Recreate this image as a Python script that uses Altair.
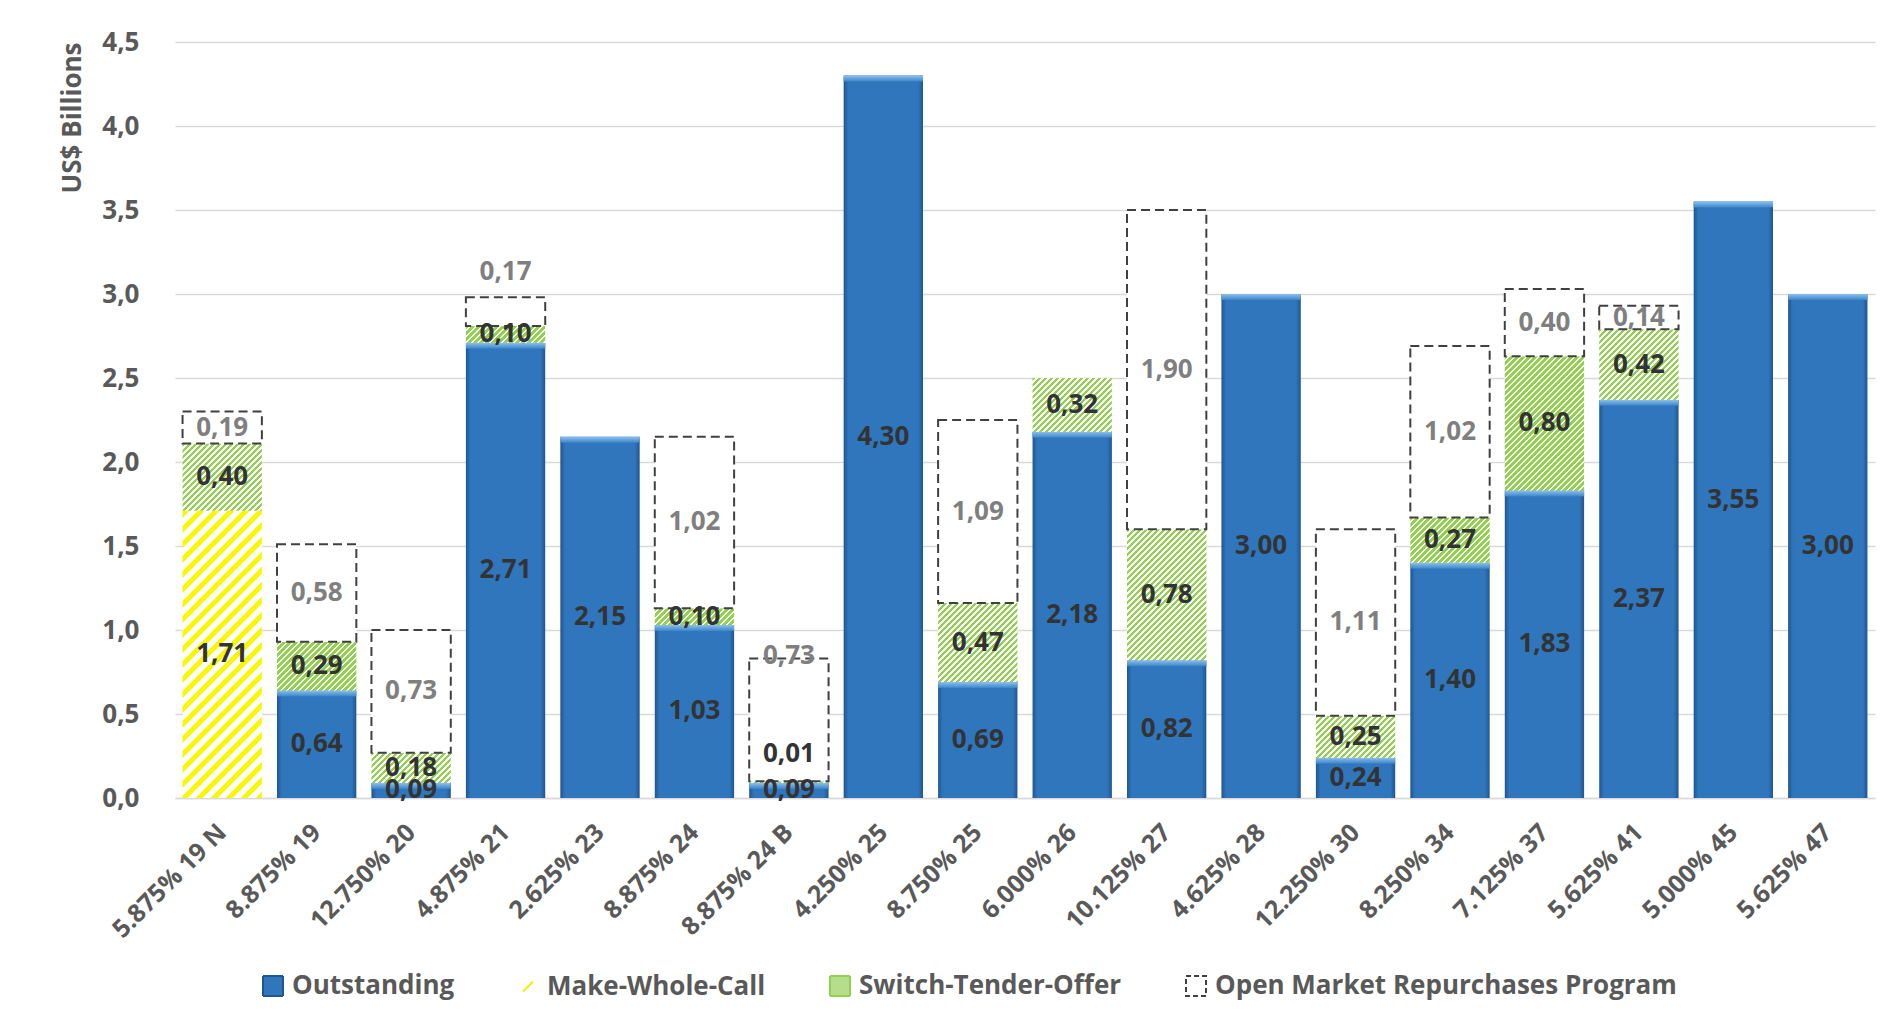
import altair as alt
import pandas as pd

# ---------------- data ----------------
categories = ["5.875% 19 N", "8.875% 19", "12.750% 20", "4.875% 21", "2.625% 23",
              "8.875% 24", "8.875% 24 B", "4.250% 25", "8.750% 25", "6.000% 26",
              "10.125% 27", "4.625% 28", "12.250% 30", "8.250% 34", "7.125% 37",
              "5.625% 41", "5.000% 45", "5.625% 47"]
make_whole = [1.71, 0, 0, 0, 0, 0, 0, 0, 0, 0, 0, 0, 0, 0, 0, 0, 0, 0]
outstanding = [0, 0.64, 0.09, 2.71, 2.15, 1.03, 0.09, 4.30, 0.69, 2.18, 0.82, 3.00,
               0.24, 1.40, 1.83, 2.37, 3.55, 3.00]
switch = [0.40, 0.29, 0.18, 0.10, 0, 0.10, 0.01, 0, 0.47, 0.32, 0.78, 0, 0.25, 0.27,
          0.80, 0.42, 0, 0]
omr = [0.19, 0.58, 0.73, 0.17, 0, 1.02, 0.73, 0, 1.09, 0, 1.90, 0, 1.11, 1.02, 0.40,
       0.14, 0, 0]
series_names = ["Outstanding", "Make-Whole-Call", "Switch-Tender-Offer",
                "Open Market Repurchases Program"]
y_ticks = [0, 0.5, 1.0, 1.5, 2.0, 2.5, 3.0, 3.5, 4.0, 4.5]

# ---------------- styles ----------------
FONT = "Open Sans"
W, H = 1700, 756
YMAX = 4.5
PAD_IN, PAD_OUT = 0.16, 0.08
PX_PER_UNIT = H / YMAX
BAND = W / (len(categories) - PAD_IN + 2 * PAD_OUT) * (1 - PAD_IN)
TEXT_GREY = "#595959"
LABEL_DARK = "#333333"
LABEL_GREY = "#7f7f7f"
label_color = {"Outstanding": LABEL_DARK, "Make-Whole-Call": LABEL_DARK,
               "Switch-Tender-Offer": LABEL_DARK,
               "Open Market Repurchases Program": LABEL_GREY}
# pixel nudges for a few data labels that were moved in the original
label_dy = {("4.875% 21", "Open Market Repurchases Program"): -40,
            ("8.875% 24 B", "Open Market Repurchases Program"): -64,
            ("8.875% 24 B", "Switch-Tender-Offer"): -28}

# ---------------- table ----------------
stack_order = [("Make-Whole-Call", make_whole), ("Outstanding", outstanding),
               ("Switch-Tender-Offer", switch),
               ("Open Market Repurchases Program", omr)]
rows = []
for i, cat in enumerate(categories):
    base = 0.0
    for name, vals in stack_order:
        v = vals[i]
        if v > 0:
            rows.append({"cat": cat, "series": name, "y0": base, "y1": base + v,
                         "mid": base + v / 2, "label": f"{v:.2f}".replace(".", ","),
                         "tcolor": label_color[name],
                         "dy": label_dy.get((cat, name), 0),
                         "key": f"{i}-{name}"})
            base += v
df = pd.DataFrame(rows)

x_scale = alt.Scale(domain=categories, paddingInner=PAD_IN, paddingOuter=PAD_OUT)
y_scale = alt.Scale(domain=[0, YMAX], nice=False, zero=True)

x_axis = alt.Axis(title=None, labelAngle=-45, labelFont=FONT, labelFontSize=25,
                  labelFontWeight="bold", labelColor=TEXT_GREY, ticks=False,
                  domainColor="#d9d9d9", domainWidth=1.5, labelPadding=30,
                  labelAlign="right", labelBaseline="middle", grid=False)
y_axis = alt.Axis(values=y_ticks,
                  labelExpr="replace(format(datum.value, '.1f'), '.', ',')",
                  title="US$ Billions", titleFont=FONT, titleFontSize=26,
                  titleFontWeight="bold", titleColor=TEXT_GREY, titleAnchor="end",
                  titlePadding=16, labelFont=FONT, labelFontSize=26,
                  labelFontWeight="bold", labelColor=TEXT_GREY, gridColor="#d9d9d9",
                  gridWidth=1.5, domain=False, ticks=False, labelPadding=36)


def X():
    return alt.X("cat:N", scale=x_scale, axis=x_axis)


def Y(field):
    return alt.Y(field, scale=y_scale, axis=y_axis)


def stops(pairs):
    return [alt.GradientStop(offset=o, color=c) for o, c in pairs]


def hatch(w, h, period, frac, fg, bg):
    L = w + h
    k = L / (w * w + h * h)
    st = []
    p = 0.0
    while p < L:
        a = p / L
        b = min((p + frac * period) / L, 1.0)
        c = min((p + period) / L, 1.0)
        st += [(a, fg), (b, fg), (b, bg), (c, bg)]
        p += period
    return alt.Gradient(gradient="linear", x1=0, y1=0, x2=k * w, y2=k * h,
                        stops=stops(st))


base = alt.Chart(df)
layers = []

# blue outstanding bars
blue_grad = alt.Gradient(gradient="linear", x1=0, y1=0, x2=1, y2=0,
                         stops=stops([(0, "#1f5690"), (0.06, "#2f76bd"),
                                      (0.94, "#2f76bd"), (1, "#1f5690")]))
layers.append(
    base.transform_filter(alt.datum.series == "Outstanding")
    .mark_bar(fill=blue_grad, strokeWidth=0)
    .encode(x=X(), y=Y("y1:Q"), y2="y0:Q")
)
bevel_grad = alt.Gradient(gradient="linear", x1=0, y1=0, x2=0, y2=1,
                          stops=stops([(0, "#8cc0ec"), (1, "#3b84ca")]))
layers.append(
    base.transform_filter(alt.datum.series == "Outstanding")
    .mark_bar(fill=bevel_grad, strokeWidth=0, y2Offset=6)
    .encode(x=X(), y=Y("y1:Q"), y2="y1:Q")
)

# hatched segments (one layer each, so every stripe gradient fits its own box)
for r in rows:
    if r["series"] == "Make-Whole-Call":
        g = hatch(BAND, (r["y1"] - r["y0"]) * PX_PER_UNIT, 15, 0.45, "#f8f800", "#ffffff")
    elif r["series"] == "Switch-Tender-Offer":
        g = hatch(BAND, (r["y1"] - r["y0"]) * PX_PER_UNIT, 6, 0.55, "#92d050", "#ffffff")
    else:
        continue
    layers.append(
        base.transform_filter(alt.datum.key == r["key"])
        .mark_bar(fill=g, strokeWidth=0)
        .encode(x=X(), y=Y("y1:Q"), y2="y0:Q")
    )

# open market repurchase boxes
layers.append(
    base.transform_filter(alt.datum.series == "Open Market Repurchases Program")
    .mark_bar(fill="#ffffff", stroke="#404040", strokeWidth=2, strokeDash=[9, 5])
    .encode(x=X(), y=Y("y1:Q"), y2="y0:Q")
)

# data labels
for d in sorted(df["dy"].unique()):
    layers.append(
        base.transform_filter(alt.datum.dy == int(d))
        .mark_text(font=FONT, fontSize=26, fontWeight="bold", baseline="middle",
                   align="center", dy=int(d))
        .encode(x=X(), y=Y("mid:Q"),
                text="label:N", color=alt.Color("tcolor:N", scale=None))
    )

# legend carrier
leg_df = pd.DataFrame({"series": series_names, "cat": categories[0], "v": 0.0})
lg = alt.Legend(title=None)
layers.append(
    alt.Chart(leg_df).mark_point(filled=True, opacity=0)
    .encode(
        x=X(), y=Y("v:Q"),
        fill=alt.Fill("series:N", legend=lg, scale=alt.Scale(
            domain=series_names, range=["#2f76bd", "#ffffff", "#b5dd8c", "#ffffff"])),
        stroke=alt.Stroke("series:N", legend=lg, scale=alt.Scale(
            domain=series_names, range=["#1f5690", "#f0f000", "#92d050", "#404040"])),
        shape=alt.Shape("series:N", legend=lg, scale=alt.Scale(
            domain=series_names,
            range=["square", "M-0.5,0.5L0.5,-0.5", "square", "square"])),
        strokeDash=alt.StrokeDash("series:N", legend=lg, scale=alt.Scale(
            domain=series_names, range=[[1, 0], [1, 0], [1, 0], [5, 3]])),
    )
)

chart = (
    alt.layer(*layers)
    .properties(width=W, height=H, autosize=alt.AutoSizeParams(type="none"),
                padding={"left": 175, "top": 42, "right": 18, "bottom": 231},
                background="#ffffff")
    .configure_view(stroke=None)
    .configure_legend(orient="none", legendX=85, legendY=931, direction="horizontal",
                      columnPadding=60, labelFont=FONT, labelFontSize=26,
                      labelFontWeight="bold", labelColor=TEXT_GREY, symbolSize=400,
                      symbolStrokeWidth=2, symbolOpacity=1, labelOffset=6,
                      labelLimit=0)
)

chart.save("out.html", embed_options={"renderer": "svg", "actions": False})
